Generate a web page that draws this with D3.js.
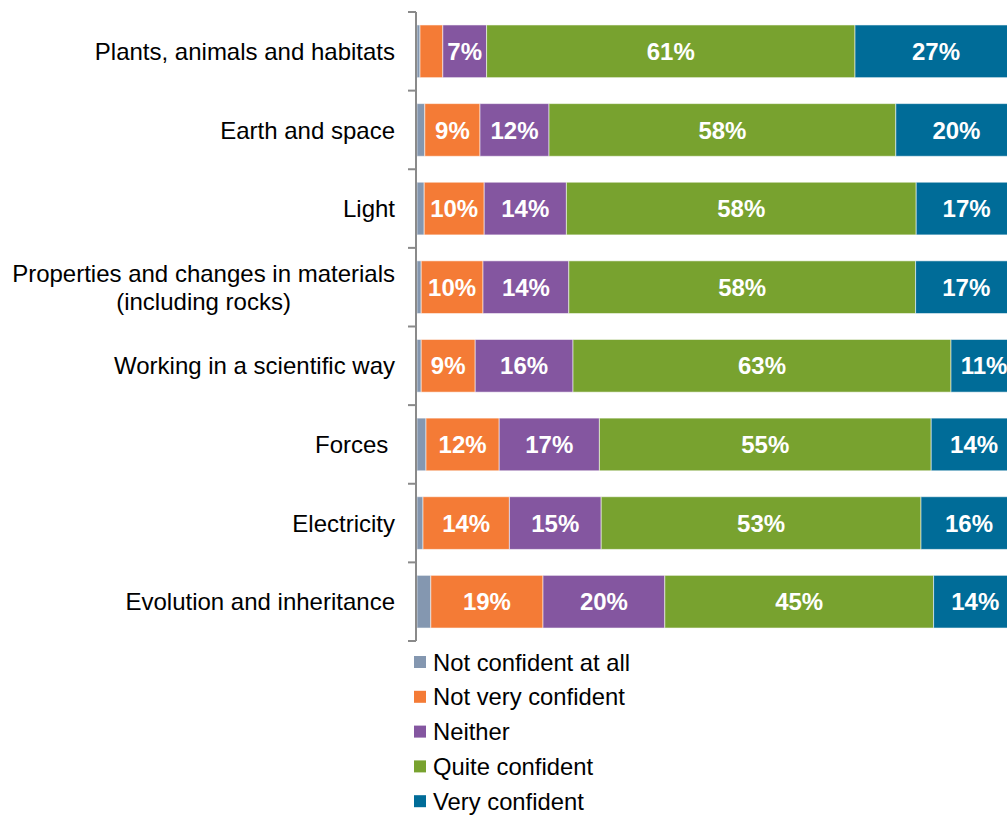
<!DOCTYPE html>
<html><head><meta charset="utf-8">
<script src="https://cdn.jsdelivr.net/npm/d3@7"></script>
<style>body{margin:0;background:#fff;}svg{display:block;font-family:"Liberation Sans",Arial,sans-serif;}</style>
</head><body>
<svg id="chart" width="1007" height="815"></svg>
<script>
const categories = [
  "Plants, animals and habitats",
  "Earth and space",
  "Light",
  "Properties and changes in materials\n(including rocks)",
  "Working in a scientific way",
  "Forces ",
  "Electricity",
  "Evolution and inheritance"
];
const seriesNames = ["Not confident at all","Not very confident","Neither","Quite confident","Very confident"];
const notConfidentAtAll = [0.5, 1.3, 1.2, 0.7, 0.7, 1.5, 1.0, 2.3];
const notVeryConfident  = [3.8, 9.2, 10.0, 10.3, 9.0, 12.2, 14.4, 18.7];
const neither           = [7.3, 11.5, 13.7, 14.3, 16.3, 16.7, 15.3, 20.3];
const quiteConfident    = [61.4, 57.8, 58.3, 57.8, 63.0, 55.3, 53.3, 44.8];
const veryConfident     = [27.0, 20.2, 16.8, 16.9, 11.0, 14.3, 16.0, 13.9];
const colors = ["#8497B0","#F47B36","#8456A0","#78A22F","#006C98"];

const series = [notConfidentAtAll, notVeryConfident, neither, quiteConfident, veryConfident];
const rows = categories.map((c,i)=>{const o={cat:c}; seriesNames.forEach((s,j)=>o[s]=series[j][i]); return o;});
const stacked = d3.stack().keys(seriesNames)(rows);

const svg = d3.select("#chart");
const x = d3.scaleLinear().domain([0,100]).range([417,1017]);
const y = d3.scaleBand().domain(categories).range([12,641]).paddingInner(0.33).paddingOuter(0.165);

// bars
const g = svg.append("g");
stacked.forEach((layer,j)=>{
  g.append("g").selectAll("rect").data(layer).join("rect")
    .attr("x",d=>x(d[0])).attr("width",d=>x(d[1])-x(d[0]))
    .attr("y",d=>y(d.data.cat)).attr("height",y.bandwidth())
    .attr("fill",colors[j]).attr("stroke","rgba(255,255,255,0.55)").attr("stroke-width",1);
  g.append("g").selectAll("text").data(layer.filter(d=>j>0 && Math.round(d[1]-d[0])>=5)).join("text")
    .attr("x",d=>(x(d[0])+x(d[1]))/2)
    .attr("y",d=>y(d.data.cat)+y.bandwidth()/2)
    .attr("dy","0.36em").attr("text-anchor","middle")
    .attr("fill","#fff").attr("font-weight","bold").attr("font-size",24)
    .text(d=>Math.round(d[1]-d[0])+"%");
});

// axis
const axisX = 416;
const ax = svg.append("g");
ax.append("line").attr("x1",axisX).attr("x2",axisX).attr("y1",y.range()[0]).attr("y2",y.range()[1])
  .attr("stroke","#8a8a8a").attr("stroke-width",2);
const edges = categories.map(c=>y(c)-y.step()*y.paddingInner()/2);
edges[0] = y.range()[0];
edges.push(y.range()[1]);
ax.selectAll("line.tk").data(edges).join("line").attr("class","tk")
  .attr("x1",axisX-8).attr("x2",axisX).attr("y1",d=>d).attr("y2",d=>d)
  .attr("stroke","#8a8a8a").attr("stroke-width",2);

// category labels
categories.forEach(c=>{
  const lines = c.split("\n");
  const cy = y(c)+y.bandwidth()/2;
  const lh = 28;
  const t = ax.append("text").attr("font-size",24).attr("fill","#000").style("white-space","pre");
  const spans = lines.map((l,i)=>t.append("tspan").text(l)
      .attr("y", cy + (i-(lines.length-1)/2)*lh).attr("dy","0.36em"));
  const widths = spans.map(s=>s.node().getComputedTextLength());
  const maxW = d3.max(widths);
  const right = 395;
  spans.forEach((s,i)=>s.attr("x", right - maxW + (maxW-widths[i])/2));
});

// legend
const lg = svg.append("g");
seriesNames.forEach((s,i)=>{
  const cy = 662 + i*34.8;
  lg.append("rect").attr("x",414).attr("y",cy-6).attr("width",12).attr("height",12).attr("fill",colors[i]);
  lg.append("text").attr("x",433).attr("y",cy).attr("dy","0.36em").attr("font-size",23.8).attr("fill","#000").text(s);
});
</script>
</body></html>
